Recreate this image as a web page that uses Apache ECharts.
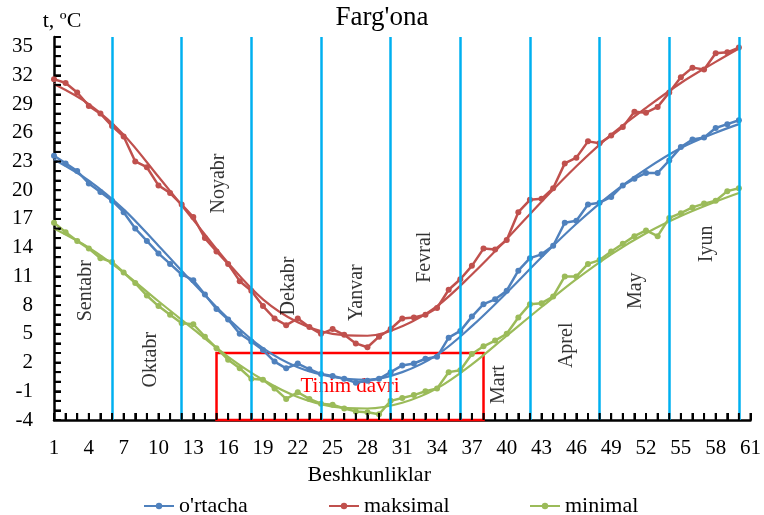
<!DOCTYPE html>
<html>
<head>
<meta charset="utf-8">
<script src="https://cdn.jsdelivr.net/npm/echarts@6/dist/echarts.min.js"></script>
<style>
  html, body { margin: 0; padding: 0; background: #fff; }
  #chart { width: 764px; height: 515px; }
</style>
</head>
<body>
<div id="chart"></div>
<script>
// besh kunlik (pentad) number, 1..60
const pentads = Array.from({length: 60}, (_, i) => i + 1);

const ortacha = [23.6, 22.8, 22.0, 20.7, 19.8, 18.9, 17.7, 16.0, 14.7, 13.4,
  12.3, 11.2, 10.6, 9.1, 7.6, 6.5, 5.0, 4.2, 3.3, 2.1,
  1.4, 1.9, 1.3, 0.8, 0.6, 0.3, -0.1, 0.1, 0.3, 1.0,
  1.7, 1.9, 2.4, 2.6, 4.6, 5.3, 6.8, 8.1, 8.6, 9.5,
  11.6, 12.9, 13.3, 14.2, 16.6, 16.8, 18.5, 18.7, 19.3, 20.5,
  21.2, 21.8, 21.8, 23.1, 24.5, 25.3, 25.5, 26.5, 26.9, 27.3];

const maksimal = [31.6, 31.2, 30.2, 28.8, 28.0, 26.7, 25.6, 23.0, 22.4, 20.5,
  19.7, 18.5, 17.2, 15.0, 13.6, 12.3, 10.5, 9.5, 7.9, 6.6,
  5.9, 6.6, 5.7, 5.0, 5.5, 4.9, 4.0, 3.6, 4.7, 5.5,
  6.6, 6.7, 7.0, 7.7, 9.6, 10.7, 12.1, 13.9, 13.8, 14.8,
  17.7, 19.0, 19.1, 20.2, 22.8, 23.4, 25.1, 24.9, 25.7, 26.6,
  28.2, 28.1, 28.7, 30.2, 31.8, 32.8, 32.6, 34.3, 34.4, 34.9];

const minimal = [16.6, 15.6, 14.7, 13.9, 12.9, 12.5, 11.4, 10.3, 9.0, 7.9,
  7.0, 6.1, 6.0, 4.7, 3.5, 2.3, 1.4, 0.3, 0.2, -0.7,
  -1.8, -1.1, -1.8, -2.3, -2.4, -2.8, -3.1, -3.2, -3.4, -2.0,
  -1.7, -1.4, -1.0, -0.7, 1.0, 1.2, 2.9, 3.7, 4.3, 5.0,
  6.7, 8.1, 8.2, 8.9, 11.0, 11.0, 12.3, 12.7, 13.6, 14.4,
  15.2, 15.8, 15.2, 17.1, 17.6, 18.2, 18.6, 18.9, 19.9, 20.2];

// trend lines at every third pentad
const trendX = [1, 4, 7, 10, 13, 16, 19, 22, 25, 28, 31, 34, 37, 40, 43, 46, 49, 52, 55, 58, 60];
const trendOrtacha = [23.2, 21.0, 18.0, 14.2, 10.3, 6.6, 3.5, 1.5, 0.5, 0.2, 1.0, 2.8, 5.8, 9.3, 13.0, 16.5, 19.6, 22.2, 24.4, 26.0, 26.9];
const trendMaksimal = [31.1, 29.0, 25.8, 21.4, 16.9, 12.4, 8.6, 6.2, 5.0, 4.8, 5.8, 7.9, 11.2, 14.9, 18.8, 22.5, 25.8, 28.6, 31.2, 33.4, 34.8];
const trendMinimal = [16.0, 14.0, 11.4, 8.4, 5.5, 2.6, 0.2, -1.6, -2.6, -2.8, -2.2, -0.7, 1.8, 4.8, 7.8, 10.7, 13.3, 15.5, 17.3, 18.8, 19.7];

// month boundaries (pentad numbers)
const monthBounds = [6, 12, 18, 24, 30, 36, 42, 48, 54, 60];
const months = ['Sentabr', 'Oktabr', 'Noyabr', 'Dekabr', 'Yanvar', 'Fevral', 'Mart', 'Aprel', 'May', 'Iyun'];

// tinim davri (dormant period) box
const tinimFrom = [15, -4];
const tinimTo = [38, 3];

// where the month names sit, in axis units
const monthLabelAt = [[3.7, 9.5], [9.3, 2.3], [15.2, 20.7], [21.2, 10.0], [27.1, 9.3],
  [32.9, 13.0], [39.3, -0.3], [45.2, 3.8], [51.1, 9.5], [57.2, 14.4]];

const X_MIN = 1, X_MAX = 61, Y_MIN = -4, Y_MAX = 36;

const FONT = "'Liberation Serif', 'Times New Roman', serif";
const BLUE = '#4F81BD', RED = '#C0504D', GREEN = '#9BBB59', CYAN = '#00B0F0';

const pairs = (xs, ys) => xs.map((x, i) => [x, ys[i]]);

// one small tick per unit on both axes (major every 3, minor every 1)
const xTicks = [], yTicks = [];
for (let v = X_MIN; v <= X_MAX; v++) xTicks.push(v);
for (let v = Y_MIN; v < Y_MAX; v++) yTicks.push(v);

function dataSeries(name, values, color) {
  return {
    id: name,
    name: name,
    type: 'line',
    data: pairs(pentads, values),
    symbol: 'circle',
    symbolSize: 6,
    lineStyle: {color: color, width: 2.5},
    itemStyle: {color: color},
    z: 4
  };
}

function trendSeries(name, values, color) {
  return {
    id: name,
    name: name,
    type: 'line',
    data: pairs(trendX, values),
    smooth: 0.35,
    showSymbol: false,
    lineStyle: {color: color, width: 2.2},
    itemStyle: {color: color},
    z: 3
  };
}

function legendAt(name, left) {
  return {
    data: [name],
    left: left,
    top: 490,
    itemWidth: 30,
    itemHeight: 8,
    itemGap: 0,
    textStyle: {fontFamily: FONT, fontSize: 22, fontWeight: 'normal', color: '#000'}
  };
}

// inward ticks, placed through the axes' own scales
function renderTicks(params, api) {
  const children = [];
  const tick = (x1, y1, x2, y2) => children.push({
    type: 'line',
    shape: {x1: x1, y1: y1, x2: x2, y2: y2},
    style: {stroke: '#000', lineWidth: 2}
  });
  xTicks.forEach(v => {
    const p = api.coord([v, Y_MIN]);
    tick(p[0], p[1], p[0], p[1] - 7);
  });
  yTicks.forEach(v => {
    const p = api.coord([X_MIN, v]);
    tick(p[0], p[1], p[0] + 7, p[1]);
  });
  return {type: 'group', children: children};
}

const axisTick = () => ({show: true, inside: true, length: 7, lineStyle: {color: '#000', width: 2}});
const minorTick = () => ({show: true, splitNumber: 3, length: 7, lineStyle: {color: '#000', width: 2}});

const chart = echarts.init(document.getElementById('chart'));

chart.setOption({
  animation: false,
  textStyle: {fontFamily: FONT},
  title: {
    text: "Farg'ona",
    left: 'center',
    top: 4,
    padding: [0, 0, 0, 44],
    textStyle: {fontFamily: FONT, fontSize: 27, fontWeight: 'normal', color: '#000'}
  },
  grid: {left: 54, right: 11, top: 37, bottom: 95},
  xAxis: {
    type: 'value',
    min: X_MIN,
    max: X_MAX,
    interval: 3,
    name: 'Beshkunliklar',
    nameLocation: 'middle',
    nameGap: 44,
    nameTextStyle: {fontFamily: FONT, fontSize: 22, color: '#000', padding: [0, 66, 0, 0]},
    axisLine: {show: true, onZero: false, lineStyle: {color: '#000', width: 2.5}},
    axisTick: axisTick(),
    minorTick: minorTick(),
    axisLabel: {fontFamily: FONT, fontSize: 21, color: '#000', margin: 18},
    splitLine: {show: false}
  },
  yAxis: {
    type: 'value',
    min: Y_MIN,
    max: Y_MAX,
    interval: 3,
    name: 't, ºC',
    nameLocation: 'end',
    nameGap: 5,
    nameTextStyle: {fontFamily: FONT, fontSize: 22, color: '#000', align: 'center', padding: [0, 0, 0, 16]},
    axisLine: {show: true, onZero: false, lineStyle: {color: '#000', width: 2.5}},
    axisTick: axisTick(),
    minorTick: minorTick(),
    axisLabel: {fontFamily: FONT, fontSize: 21, color: '#000', margin: 21, showMaxLabel: false},
    splitLine: {show: false}
  },
  series: [
    {
      id: 'ticks',
      name: 'ticks',
      type: 'custom',
      silent: true,
      clip: false,
      data: [[X_MIN, Y_MIN]],
      renderItem: renderTicks,
      z: 6
    },
    {
      id: 'oylar',
      name: 'oylar',
      type: 'scatter',
      symbolSize: 0,
      silent: true,
      data: months.map((m, i) => ({name: m, value: monthLabelAt[i]})),
      label: {
        show: true,
        position: 'inside',
        rotate: 90,
        formatter: '{b}',
        fontFamily: FONT,
        fontSize: 20,
        color: '#000'
      },
      markLine: {
        silent: true,
        symbol: 'none',
        label: {show: false},
        lineStyle: {color: CYAN, width: 2.5, type: 'solid'},
        data: monthBounds.map(x => ({xAxis: x}))
      },
      markArea: {
        silent: true,
        itemStyle: {color: 'rgba(0,0,0,0)', borderColor: '#FF0000', borderWidth: 2.5},
        label: {
          show: true, position: 'inside',
          fontFamily: FONT, fontSize: 21, color: '#FF0000'
        },
        data: [[{name: 'Tinim davri', coord: tinimFrom}, {coord: tinimTo}]]
      },
      z: 5
    },
    dataSeries("o'rtacha", ortacha, BLUE),
    dataSeries('maksimal', maksimal, RED),
    dataSeries('minimal', minimal, GREEN),
    trendSeries("o'rtacha trend", trendOrtacha, BLUE),
    trendSeries('maksimal trend', trendMaksimal, RED),
    trendSeries('minimal trend', trendMinimal, GREEN)
  ]
});

// legend added separately so a problem there cannot hold back the plot
chart.setOption({
  legend: [
    legendAt("o'rtacha", 138),
    legendAt('maksimal', 323),
    legendAt('minimal', 524)
  ]
});
</script>
</body>
</html>
